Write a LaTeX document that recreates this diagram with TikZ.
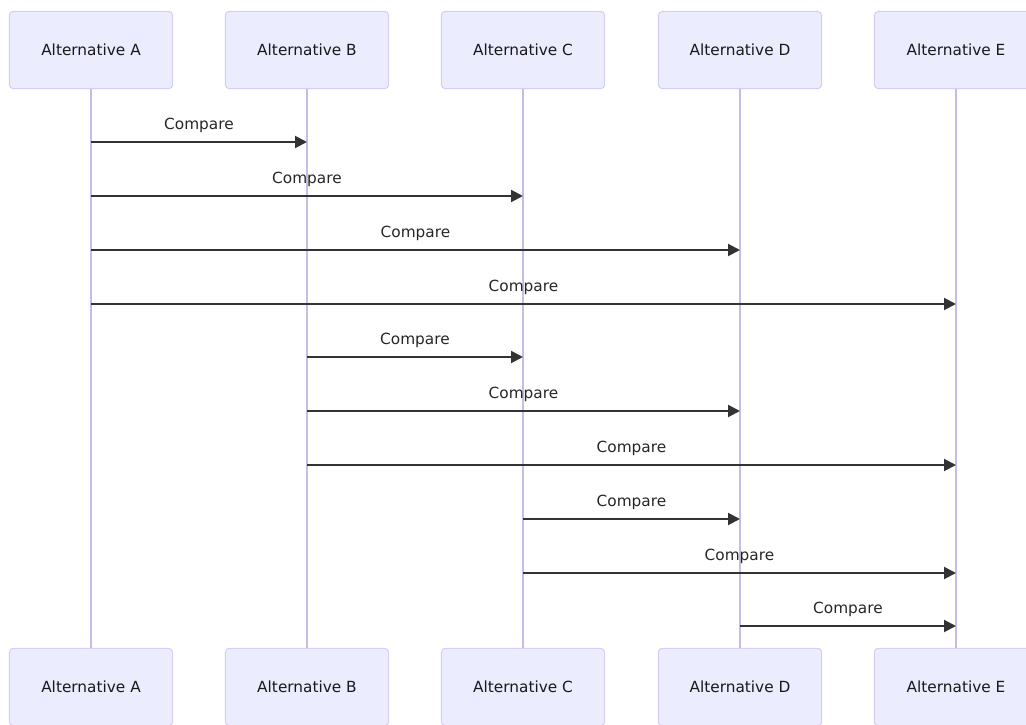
\documentclass[tikz,border=0pt]{standalone}
\usepackage{fontspec}
\setmainfont{DejaVu Sans}
\usetikzlibrary{arrows.meta}
\definecolor{actorfill}{HTML}{ECECFF}
\definecolor{actorline}{HTML}{D6CEF2}
\definecolor{lifeline}{HTML}{C8BCE6}
\definecolor{msgcol}{HTML}{333333}
\tikzset{
  every picture/.style={line join=round, >=Triangle},
  actor/.style={draw=actorline, fill=actorfill, rounded corners=3pt, line width=0.75pt,
    minimum width=122.5pt, minimum height=58pt, inner sep=0pt,
    font=\fontsize{11.5}{13}\selectfont, text=black!90},
  life/.style={draw=lifeline, line width=1.2pt},
  msg/.style={draw=msgcol, line width=1.5pt, -{Triangle[length=9pt,width=9pt]}},
  lbl/.style={midway, yshift=12.75pt, font=\fontsize{11.5}{13}\selectfont, text=black!85},
}

\begin{document}
\begin{tikzpicture}[x=0.75pt,y=-0.75pt]
\useasboundingbox (0,0) rectangle (1026,725);
% actors, top and bottom
\foreach \n/\x in {A/91,B/307,C/523,D/740,E/956}{
  \node[actor] (top\n) at (\x,50) {Alternative \n};
  \node[actor] (bot\n) at (\x,687) {Alternative \n};
  \draw[life] (top\n.south) -- (bot\n.north);
}
% messages
\foreach \a/\b/\y in {A/B/142,A/C/196,A/D/250,A/E/304,B/C/357,B/D/411,B/E/465,C/D/519,C/E/573,D/E/626}{
  \draw[msg] (top\a |- 0,\y) -- node[lbl]{Compare} (top\b |- 0,\y);
}
\end{tikzpicture}
\end{document}
